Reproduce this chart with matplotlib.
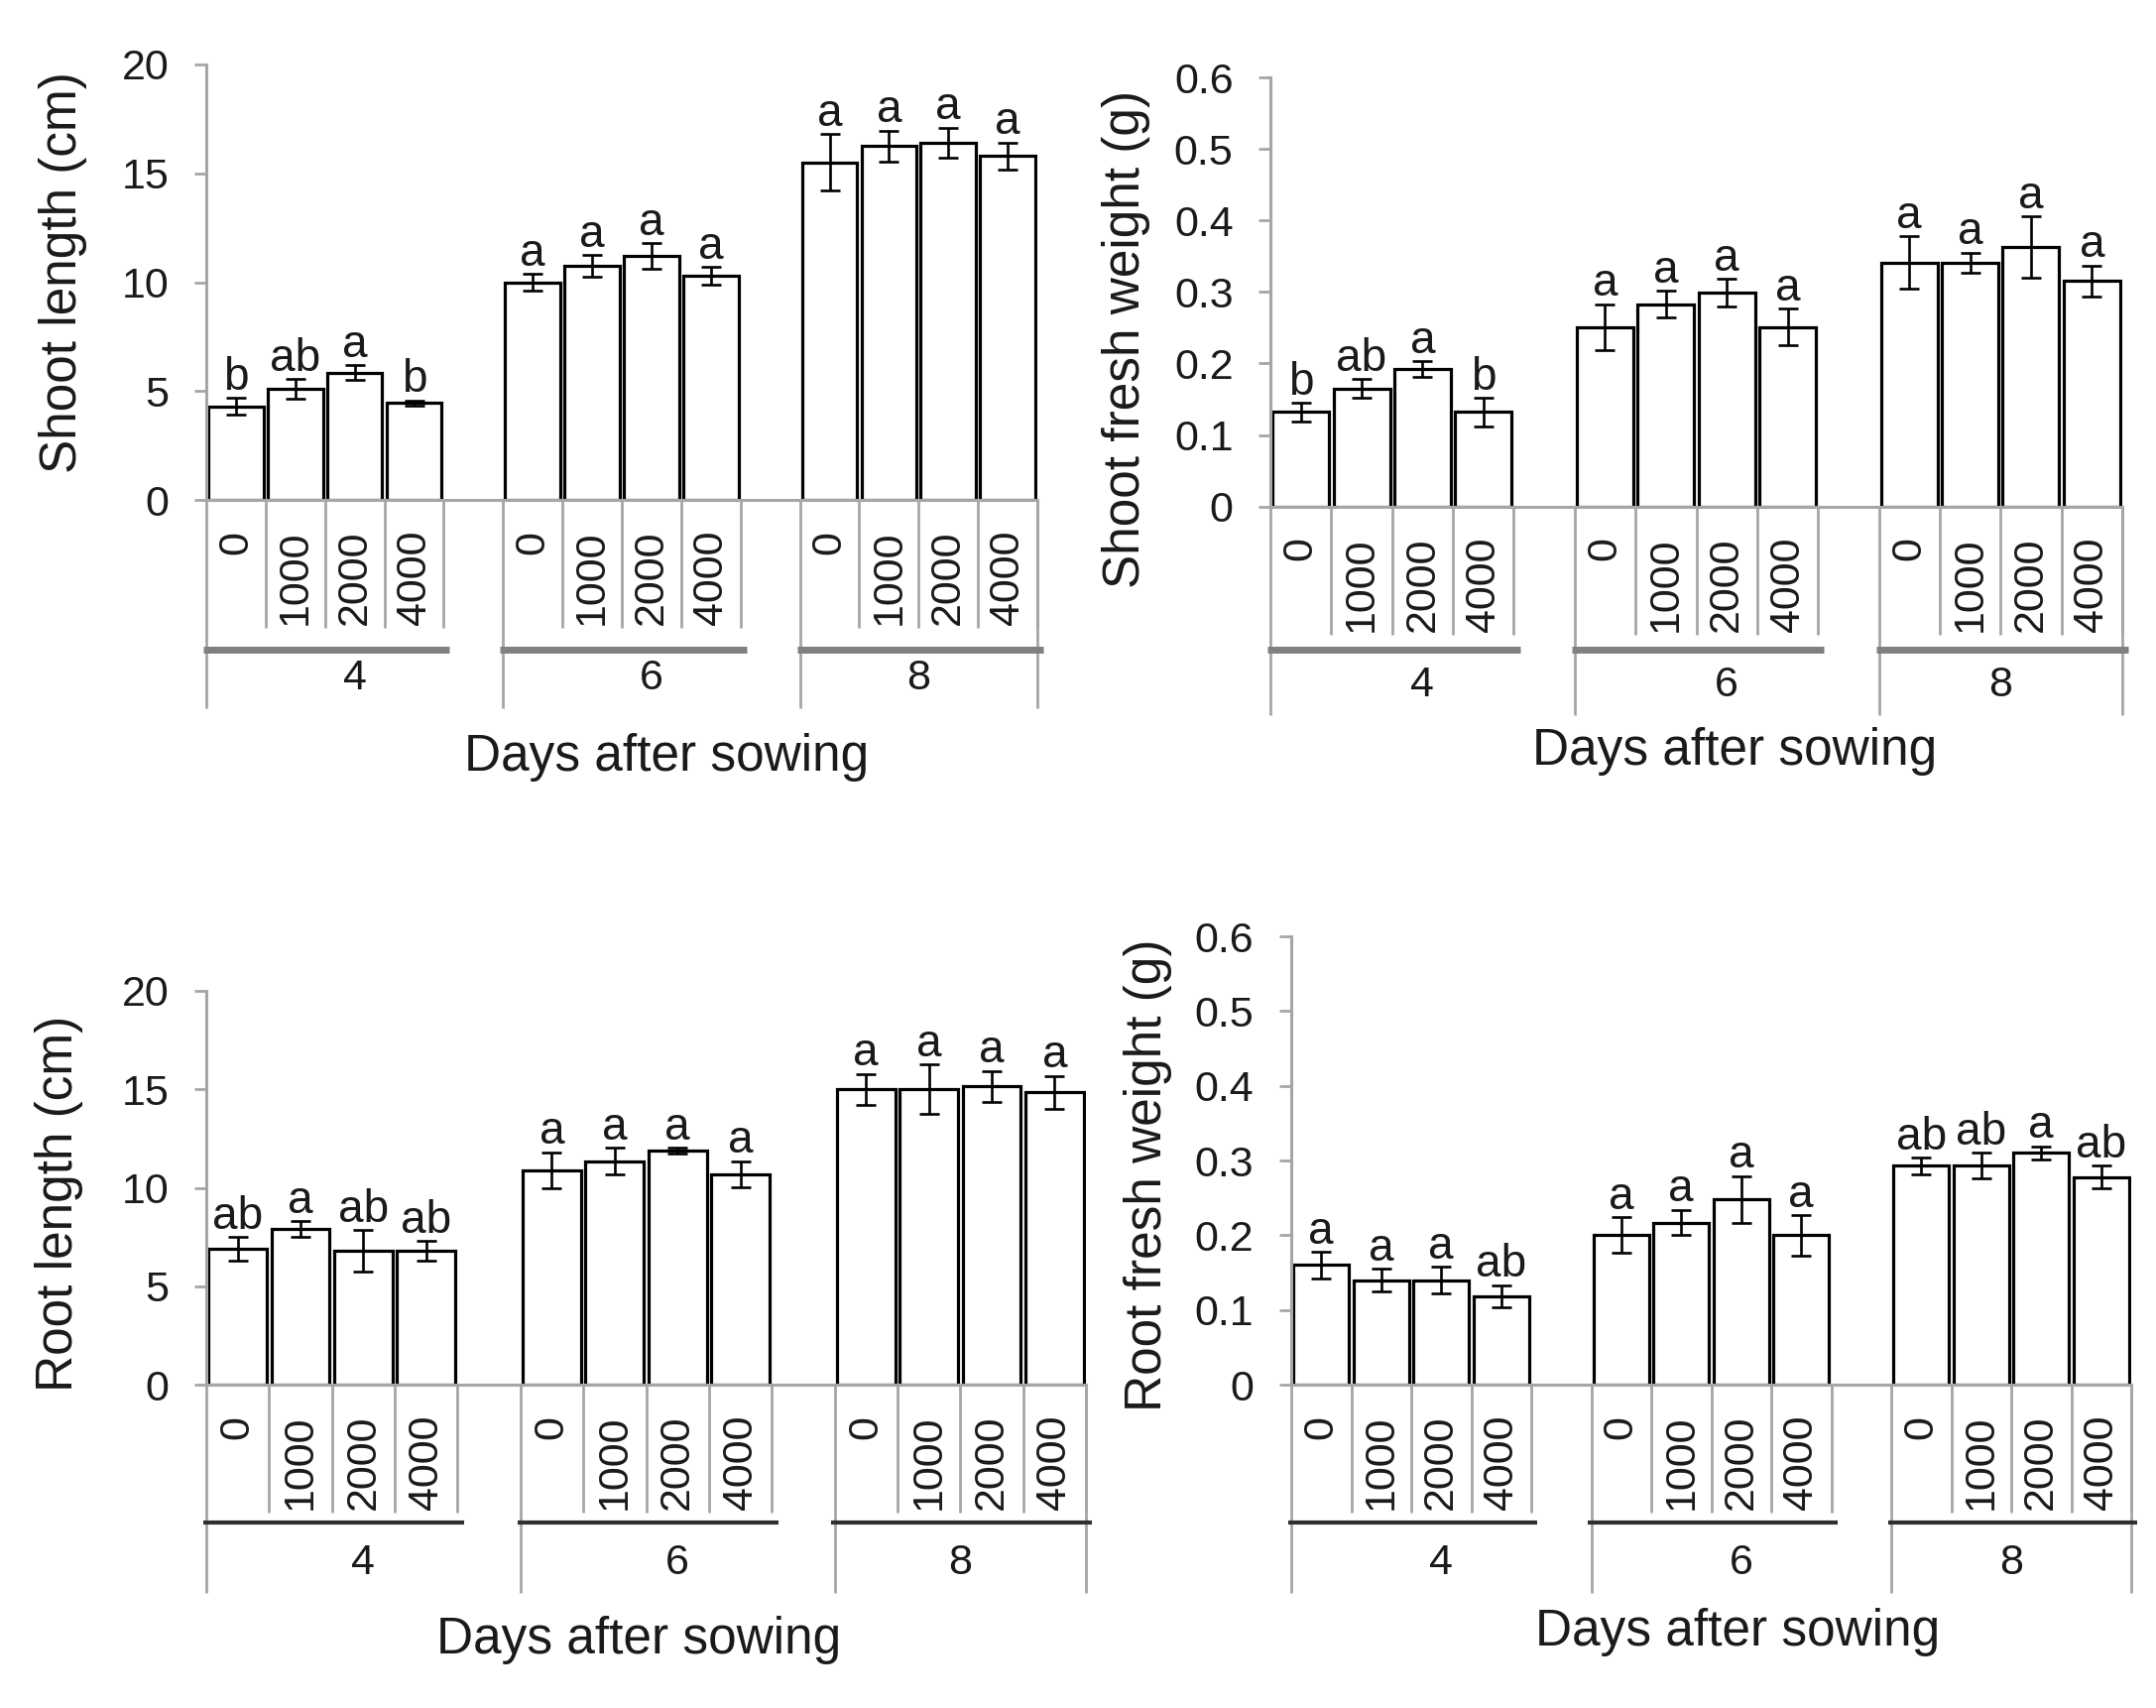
import matplotlib
matplotlib.use("Agg")
import matplotlib.pyplot as plt
import matplotlib.transforms as mtransforms

plt.rcParams['font.family'] = ['Liberation Sans', 'DejaVu Sans']

#---------------------------------------------- data
doses = ['0', '1000', '2000', '4000']
days = ['4', '6', '8']

shoot_len = [4.3, 5.1, 5.85, 4.45, 10.0, 10.75, 11.2, 10.3, 15.5, 16.25, 16.4, 15.8]
shoot_len_err = [0.4, 0.45, 0.35, 0.12, 0.38, 0.5, 0.6, 0.4, 1.3, 0.72, 0.7, 0.62]
shoot_len_let = ['b', 'ab', 'a', 'b', 'a', 'a', 'a', 'a', 'a', 'a', 'a', 'a']

shoot_fw = [0.132, 0.165, 0.192, 0.132, 0.251, 0.283, 0.299, 0.251, 0.341, 0.341, 0.363, 0.315]
shoot_fw_err = [0.013, 0.013, 0.011, 0.02, 0.032, 0.019, 0.019, 0.026, 0.037, 0.014, 0.043, 0.022]
shoot_fw_let = ['b', 'ab', 'a', 'b', 'a', 'a', 'a', 'a', 'a', 'a', 'a', 'a']

root_len = [6.9, 7.9, 6.8, 6.8, 10.9, 11.35, 11.9, 10.7, 15.0, 15.0, 15.15, 14.85]
root_len_err = [0.6, 0.4, 1.05, 0.5, 0.9, 0.69, 0.14, 0.66, 0.79, 1.27, 0.79, 0.83]
root_len_let = ['ab', 'a', 'ab', 'ab', 'a', 'a', 'a', 'a', 'a', 'a', 'a', 'a']

root_fw = [0.160, 0.140, 0.140, 0.118, 0.200, 0.217, 0.248, 0.200, 0.293, 0.293, 0.310, 0.278]
root_fw_err = [0.018, 0.015, 0.018, 0.015, 0.024, 0.017, 0.031, 0.027, 0.011, 0.017, 0.009, 0.015]
root_fw_let = ['a', 'a', 'a', 'ab', 'a', 'a', 'a', 'a', 'ab', 'ab', 'a', 'ab']

len_ticks = [0, 5, 10, 15, 20]
fw_ticks = [0, 0.1, 0.2, 0.3, 0.4, 0.5, 0.6]

#---------------------------------------------- style
W, H = 2174, 1722
GRAY = '#a6a6a6'
TXT = '#1a1a1a'
TICK_FS = 31
LAB_FS = 37
LET_FS = 33

fig = plt.figure(figsize=(W / 100, H / 100), dpi=100)


def panel(rect, vals, errs, lets, yticks, ylabel, ylab_xy, xlab_xy, gline_off, gline_lw, gline_col):
   ax = fig.add_axes(rect)
   pos = []
   for g in range(len(days)):
      for i in range(len(doses)):
         pos.append(g * 5 + i)
   ax.bar(pos, vals, width=0.93, color='white', edgecolor='black', linewidth=2.3, zorder=2)
   ax.errorbar(pos, vals, yerr=errs, fmt='none', ecolor='black', elinewidth=1.9,
               capsize=7.5, capthick=1.9, zorder=3)
   for p, v, e, l in zip(pos, vals, errs, lets):
      ax.annotate(l, (p, v + e), xytext=(0, 6), textcoords='offset points',
                  ha='center', va='baseline', fontsize=LET_FS, color=TXT)

   ax.set_xlim(-0.5, 13.5)
   ax.set_ylim(0, yticks[-1])
   ax.set_yticks(yticks)
   ax.set_yticklabels(['%g' % t for t in yticks])
   ax.set_xticks([])
   ax.tick_params(axis='y', length=9, width=2, color=GRAY, pad=18, labelsize=TICK_FS, labelcolor=TXT)
   for s in ['top', 'right']:
      ax.spines[s].set_visible(False)
   for s in ['left', 'bottom']:
      ax.spines[s].set_color(GRAY)
      ax.spines[s].set_linewidth(2.2)

   # multi level category axis: x in data, y in pixels below the axis
   base = mtransforms.blended_transform_factory(ax.transData, ax.transAxes)

   def tr(px):
      return base + mtransforms.ScaledTranslation(0, -px / 100, fig.dpi_scale_trans)

   axh_px = rect[3] * H
   for g in range(len(days)):
      x0 = g * 5
      for i in range(len(doses)):
         ax.text(x0 + i, 0, doses[i], rotation=90, ha='center', va='top', fontsize=TICK_FS,
                 color=TXT, transform=tr(31))
         xs = x0 + i + 0.5
         ax.plot([xs, xs], [0, -129 / axh_px], color=GRAY, lw=2, clip_on=False, transform=base,
                 solid_capstyle='butt', zorder=1)
      ax.plot([x0 - 0.55, x0 + 3.6], [0, 0], color=gline_col, lw=gline_lw, clip_on=False,
              transform=tr(gline_off), solid_capstyle='butt')
      cx = x0 + 2 if g < len(days) - 1 else x0 + 1.5
      ax.text(cx, 0, days[g], ha='center', va='center', fontsize=TICK_FS, color=TXT,
              transform=tr(180))
   for xs in [-0.5, 4.5, 9.5, 13.5]:
      ax.plot([xs, xs], [0, -210 / axh_px], color=GRAY, lw=2, clip_on=False, transform=base,
              solid_capstyle='butt', zorder=1)

   fig.text(ylab_xy[0] / W, 1 - ylab_xy[1] / H, ylabel, rotation=90, ha='center', va='center',
            fontsize=LAB_FS, color=TXT)
   fig.text(xlab_xy[0] / W, 1 - xlab_xy[1] / H, 'Days after sowing', ha='center', va='center',
            fontsize=LAB_FS, color=TXT)
   return ax


panel([208 / W, 1 - 504 / H, 838 / W, 439 / H], shoot_len, shoot_len_err, shoot_len_let, len_ticks,
      'Shoot length (cm)', (64, 275), (672, 763), 151, 5, '#808080')
panel([1281 / W, 1 - 510.6 / H, 859 / W, 432.6 / H], shoot_fw, shoot_fw_err, shoot_fw_let, fw_ticks,
      'Shoot fresh weight (g)', (1135, 342), (1749, 758), 144, 5, '#808080')
panel([208 / W, 1 - 1396 / H, 887 / W, 397 / H], root_len, root_len_err, root_len_let, len_ticks,
      'Root length (cm)', (60, 1213), (644, 1654), 139, 3, '#303030')
panel([1302 / W, 1 - 1396 / H, 847 / W, 452 / H], root_fw, root_fw_err, root_fw_let, fw_ticks,
      'Root fresh weight (g)', (1158, 1185), (1752, 1646), 139, 3, '#303030')

fig.savefig('out.png', dpi=100, facecolor='white')
